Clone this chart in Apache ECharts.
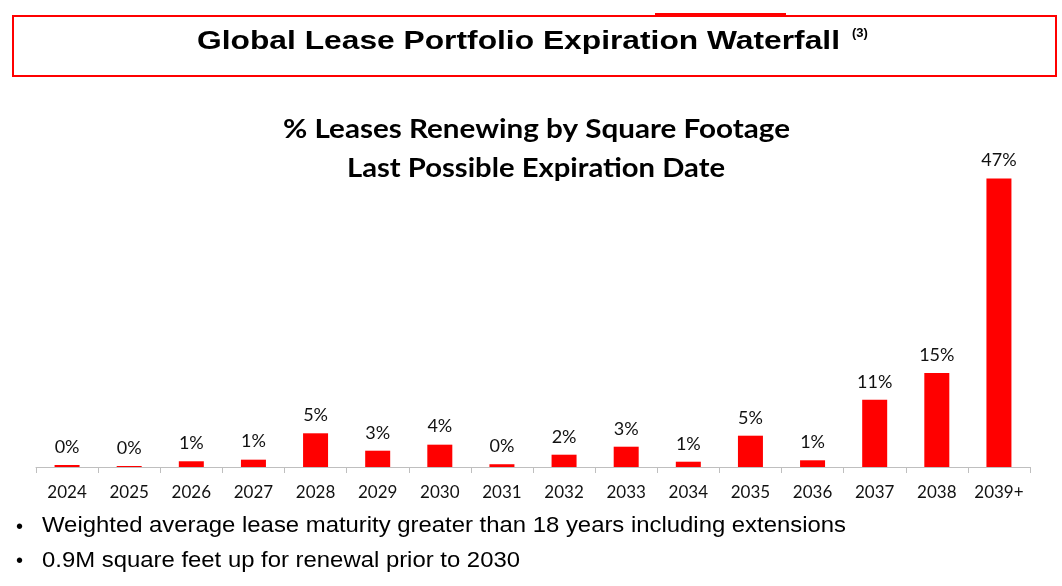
<!DOCTYPE html>
<html>
<head>
<meta charset="utf-8">
<script src="https://cdn.jsdelivr.net/npm/echarts@6/dist/echarts.min.js"></script>
<style>
html,body{margin:0;padding:0;background:#fff;}
#c{width:1062px;height:586px;}
</style>
</head>
<body>
<div id="c"></div>
<script>
const categories = ['2024','2025','2026','2027','2028','2029','2030','2031','2032','2033','2034','2035','2036','2037','2038','2039+'];
const values = [0.33,0.16,0.93,1.19,5.48,2.65,3.63,0.45,2.0,3.3,0.86,5.09,1.09,10.94,15.28,46.9];
const titleText = 'Global Lease Portfolio Expiration Waterfall';
const titleNote = '(3)';
const subtitleLines = ['% Leases Renewing by Square Footage', 'Last Possible Expiration Date'];
const bullets = ['Weighted average lease maturity greater than 18 years including extensions', '0.9M square feet up for renewal prior to 2030'];

const mctx = document.createElement('canvas').getContext('2d');
function fitScale(text, font, target) {
  mctx.font = font;
  return target / mctx.measureText(text).width;
}

const titleFont = 'bold 26px "Liberation Sans"';
const bulletFont = '22px "Liberation Sans"';
const subFont = 'bold 27px Lato';

const chart = echarts.init(document.getElementById('c'));
chart.setOption({
  animation: false,
  grid: { left: 36, right: 32, top: 159.5, height: 307.5, containLabel: false },
  xAxis: {
    type: 'category',
    data: categories,
    axisLine: { lineStyle: { color: '#bfbfbf', width: 1 } },
    axisTick: { show: true, length: 6, interval: 0, lineStyle: { color: '#bfbfbf' } },
    axisLabel: { interval: 0, color: '#111', fontFamily: 'Lato', fontSize: 17, margin: 17 }
  },
  yAxis: { type: 'value', min: 0, max: 50, show: false, splitLine: { show: false } },
  series: [{
    type: 'bar',
    data: values,
    barWidth: 25,
    itemStyle: { color: '#ff0000' },
    label: {
      show: true, position: 'top', distance: 9,
      color: '#111', fontFamily: 'Lato', fontSize: 18,
      formatter: p => Math.round(p.value) + '%'
    }
  }],
  graphic: [
    { type: 'rect', shape: { x: 13, y: 16, width: 1043, height: 60 }, style: { fill: 'none', stroke: '#ff0000', lineWidth: 2 } },
    { type: 'rect', shape: { x: 655, y: 13, width: 131, height: 3 }, style: { fill: '#ff0000' } },
    { type: 'text', x: 197, y: 42, scaleX: fitScale(titleText, titleFont, 643),
      style: { text: titleText, font: titleFont, fill: '#000', textAlign: 'left', textVerticalAlign: 'middle' } },
    { type: 'text', x: 852, y: 33,
      style: { text: titleNote, font: 'bold 13px "Liberation Sans"', fill: '#000', textAlign: 'left', textVerticalAlign: 'middle' } },
    { type: 'text', x: 283, y: 129, scaleX: fitScale(subtitleLines[0], subFont, 507),
      style: { text: subtitleLines[0], font: subFont, fill: '#000', textAlign: 'left', textVerticalAlign: 'middle' } },
    { type: 'text', x: 347, y: 168, scaleX: fitScale(subtitleLines[1], subFont, 378),
      style: { text: subtitleLines[1], font: subFont, fill: '#000', textAlign: 'left', textVerticalAlign: 'middle' } },
    { type: 'text', x: 16, y: 527, style: { text: '•', font: '20px "Liberation Sans"', fill: '#000', textAlign: 'left', textVerticalAlign: 'middle' } },
    { type: 'text', x: 16, y: 561, style: { text: '•', font: '20px "Liberation Sans"', fill: '#000', textAlign: 'left', textVerticalAlign: 'middle' } },
    { type: 'text', x: 42, y: 526, scaleX: fitScale(bullets[0], bulletFont, 804),
      style: { text: bullets[0], font: bulletFont, fill: '#000', textAlign: 'left', textVerticalAlign: 'middle' } },
    { type: 'text', x: 42, y: 561, scaleX: fitScale(bullets[1], bulletFont, 478),
      style: { text: bullets[1], font: bulletFont, fill: '#000', textAlign: 'left', textVerticalAlign: 'middle' } }
  ]
});
</script>
</body>
</html>
